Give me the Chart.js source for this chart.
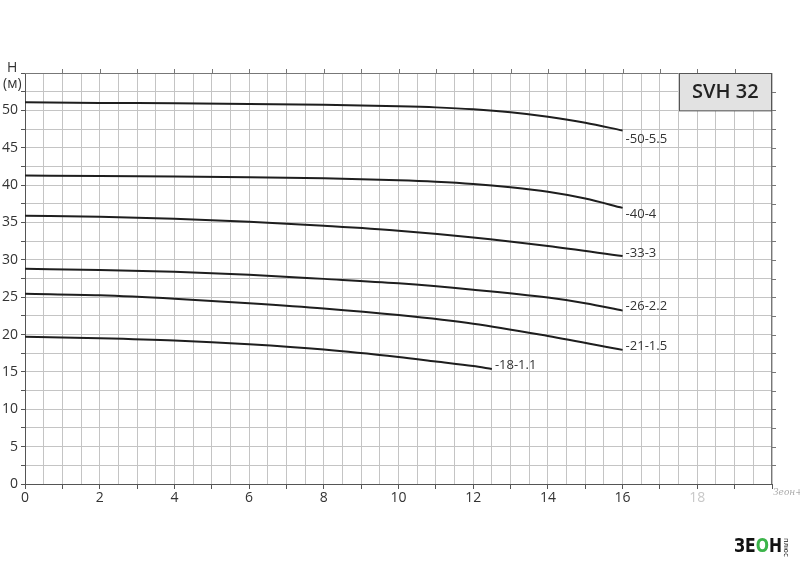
<!DOCTYPE html>
<html>
<head>
<meta charset="utf-8">
<script src="https://cdn.jsdelivr.net/npm/chart.js@4.4.1/dist/chart.umd.min.js"></script>
<style>
  body { margin: 0; background: #fff; }
  #wrap { position: relative; width: 800px; height: 569px; }
  #yname { position: absolute; left: 3px; top: 59px; font: 14px "Open Sans", sans-serif; color: #333; line-height: 16px; text-align: center; }
  #mark { position: absolute; left: 773px; top: 487px; font: italic 9px "DejaVu Serif", serif; color: #aaa; }
  #logo { position: absolute; left: 734px; top: 533px; font: bold 20px "DejaVu Sans", sans-serif; color: #111; transform: scaleX(0.78); transform-origin: left top; white-space: nowrap; }
  #logo .o { color: #3cb44a; }
  #plus { position: absolute; left: 790px; top: 538px; font: 7px "DejaVu Sans", sans-serif; color: #111; transform: rotate(90deg); transform-origin: left top; }
</style>
</head>
<body>
<div id="wrap">
  <canvas id="chart1" width="800" height="569"></canvas>
  <div id="yname">H<br>(м)</div>
  <div id="mark">Зеон+</div>
  <div id="logo">ЗЕ<span class="o">О</span>Н</div>
  <div id="plus">плюс</div>
</div>
<script>
// curve names (label at curve end)
const names = ["-50-5.5", "-40-4", "-33-3", "-26-2.2", "-21-1.5", "-18-1.1"];

// flow Q (m3/h) and head H (m)
const q1 = [0, 2, 4, 6, 8, 10, 11, 12, 13, 14, 15, 16];
const h1 = [51.1, 51.0, 50.95, 50.85, 50.75, 50.55, 50.4, 50.15, 49.75, 49.15, 48.35, 47.3];
const q2 = [0, 2, 4, 6, 8, 10, 11, 12, 13, 14, 15, 16];
const h2 = [41.3, 41.2, 41.15, 41.05, 40.9, 40.65, 40.45, 40.15, 39.7, 39.1, 38.2, 36.95];
const q3 = [0, 2, 4, 6, 8, 10, 12, 14, 16];
const h3 = [35.9, 35.75, 35.5, 35.1, 34.55, 33.9, 33.0, 31.85, 30.5];
const q4 = [0, 2, 4, 6, 8, 10, 12, 14, 15, 16];
const h4 = [28.8, 28.65, 28.4, 28.0, 27.45, 26.85, 26.0, 24.95, 24.2, 23.2];
const q5 = [0, 2, 4, 6, 8, 10, 12, 14, 16];
const h5 = [25.45, 25.25, 24.8, 24.2, 23.5, 22.6, 21.45, 19.8, 17.95];
const q6 = [0, 2, 4, 6, 8, 10, 11, 12, 12.5];
const h6 = [19.7, 19.5, 19.2, 18.7, 18.0, 17.0, 16.4, 15.8, 15.4];

const allQ = [q1, q2, q3, q4, q5, q6];
const allH = [h1, h2, h3, h4, h5, h6];

// vertical shift of each end label (px)
const labelDy = [9, 6, -3, -4, -4, -4];

const boxText = "SVH 32";

const datasets = [];
for (let i = 0; i < names.length; i++) {
  datasets.push({
    label: names[i],
    data: allQ[i].map((x, k) => ({x: x, y: allH[i][k]})),
    borderColor: "#1e1e1e",
    borderWidth: 2,
    pointRadius: 0,
    cubicInterpolationMode: "monotone",
    fill: false
  });
}

const extras = {
  id: "extras",
  afterDraw(chart) {
    const c = chart.ctx;
    const a = chart.chartArea;
    const xs = chart.scales.x, ys = chart.scales.y;
    c.save();
    // top and right frame with small ticks
    c.strokeStyle = "#777";
    c.lineWidth = 1;
    c.beginPath();
    c.moveTo(a.left, a.top + 0.5); c.lineTo(a.right, a.top + 0.5);
    c.moveTo(a.right - 0.5, a.top); c.lineTo(a.right - 0.5, a.bottom);
    for (let v = 1; v < 20; v += 1) {
      const px = Math.round(xs.getPixelForValue(v)) + 0.5;
      c.moveTo(px, a.top); c.lineTo(px, a.top - 4);
    }
    for (let v = 2.5; v < 55; v += 2.5) {
      const py = Math.round(ys.getPixelForValue(v)) + 0.5;
      c.moveTo(a.right, py); c.lineTo(a.right + 4, py);
    }
    c.stroke();

    // end labels
    c.fillStyle = "#333";
    c.font = "13px 'Open Sans', sans-serif";
    c.textBaseline = "middle";
    c.textAlign = "left";
    chart.data.datasets.forEach((ds, i) => {
      const last = ds.data[ds.data.length - 1];
      const px = xs.getPixelForValue(last.x);
      const py = ys.getPixelForValue(last.y);
      c.fillText(ds.label, px + 3, py + labelDy[i]);
    });

    // model box
    const bx1 = xs.getPixelForValue(17.5), by2 = ys.getPixelForValue(50);
    c.fillStyle = "#e2e2e2";
    c.fillRect(bx1, a.top, a.right - bx1, by2 - a.top);
    c.strokeStyle = "#555";
    c.strokeRect(Math.round(bx1) + 0.5, a.top + 0.5, a.right - Math.round(bx1) - 1, by2 - a.top);
    c.fillStyle = "#222";
    c.font = "600 20px 'Open Sans', sans-serif";
    c.textAlign = "center";
    c.fillText(boxText, (bx1 + a.right) / 2, (a.top + by2) / 2 + 1);
    c.restore();
  }
};

const ctx = document.getElementById("chart1").getContext("2d");
const myChart = new Chart(ctx, {
  type: "line",
  data: { datasets: datasets },
  plugins: [extras],
  options: {
    responsive: false,
    animation: false,
    layout: { padding: { top: 73, right: 28, left: 0, bottom: 0 } },
    plugins: { legend: { display: false }, tooltip: { enabled: false } },
    scales: {
      x: {
        type: "linear",
        min: 0, max: 20,
        afterFit(s) { s.height = 85; },
        afterBuildTicks(s) {
          const t = [];
          for (let v = 0; v <= 20; v += 0.5) t.push({value: v});
          s.ticks = t;
        },
        border: { color: "#555" },
        grid: {
          color: "#c4c4c4",
          tickLength: 5,
          tickColor: (c) => (c.tick && Number.isInteger(c.tick.value)) ? "#555" : "rgba(0,0,0,0)"
        },
        ticks: {
          autoSkip: false,
          maxRotation: 0,
          padding: 1,
          color: (c) => (c.tick && c.tick.value > 16) ? "#c8c8c8" : "#333",
          font: { family: "'Open Sans', sans-serif", size: 14 },
          callback: (v) => (v % 2 === 0 && v < 20) ? String(v) : ""
        }
      },
      y: {
        type: "linear",
        min: 0, max: 55,
        afterFit(s) { s.width = 25; },
        afterBuildTicks(s) {
          const t = [];
          for (let v = 0; v <= 55; v += 2.5) t.push({value: v});
          s.ticks = t;
        },
        border: { color: "#555" },
        grid: { color: "#c4c4c4", tickLength: 4, tickColor: "#555" },
        ticks: {
          autoSkip: false,
          padding: 3,
          color: "#333",
          font: { family: "'Open Sans', sans-serif", size: 14 },
          callback: (v) => (v % 5 === 0 && v < 55) ? String(v) : ""
        }
      }
    }
  }
});
</script>
</body>
</html>
